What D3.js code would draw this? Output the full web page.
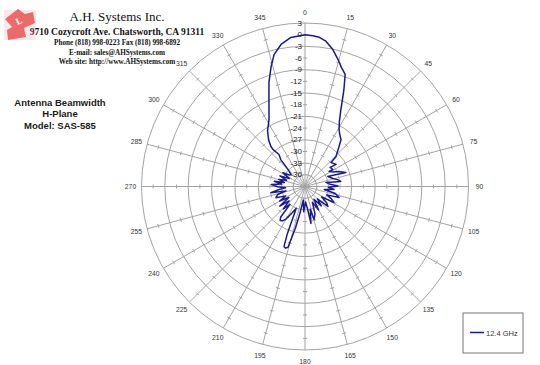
<!DOCTYPE html>
<html><head><meta charset="utf-8">
<script src="https://cdn.jsdelivr.net/npm/d3@7"></script>
<style>html,body{margin:0;padding:0;background:#fff;}svg{display:block;}</style>
</head><body>
<svg id="chart" width="540" height="365"></svg>
<script>
// ---------- data ----------
const angleTicks = [0,15,30,45,60,75,90,105,120,135,150,165,180,195,210,225,240,255,270,285,300,315,330,345];
const radialTickLabels = [3,0,-3,-6,-9,-12,-15,-18,-21,-24,-27,-30,-33,-36];
const ringValues = [3,-3,-9,-15,-21,-27,-33];
const spokeTickValues = [0,-6,-12,-18,-24,-30,-36];
const seriesName = "12.4 GHz";
// measured pattern, path order (degrees, dB)
const angles = [0,3,5.5,8,11.5,14.6,17,19.7,21.9,23.5,25,28,30.8,34,37.5,41,44,46,47.3,54.6,52.8,58.7,58,62,66,71,68,66.5,74,78,82,79,85,89,92,96,99,103,108,111,115,119,122,127,131,135,140,145,150,155,160,164.7,167,170.8,174,178,183,187,191,193,195.6,197.5,199.3,200.5,202,206,210,213,216.3,218.5,220,224,228,232,236,240,244,249,253.7,257,259.5,263.3,266,269.4,273.4,276,279.8,281,285,289,293,297,302,306,310.6,315,318,320.9,319.1,319.6,322,326,331.7,337.5,340.9,344.2,346.8,350.4,354.6,360];
const gains = [0,-0.2,-0.5,-1.2,-3.1,-5.3,-7,-8.4,-12.2,-15,-17.2,-20.2,-21.9,-23,-23.8,-25.8,-27.2,-27.9,-29.9,-29.2,-30.9,-30.6,-31.7,-31,-29.5,-27.9,-31.5,-32.6,-31.5,-30.5,-29.7,-33.5,-32.5,-30.5,-33,-31.5,-34,-31,-29.8,-33,-31.5,-30.5,-34,-32,-31.2,-34.5,-32.5,-35,-32,-34.5,-31.5,-30.2,-33,-29.4,-33.5,-35,-32.5,-35.5,-31.6,-28,-22.8,-22.4,-22.7,-26,-33,-31.5,-29.5,-28.5,-28.2,-29,-33,-31,-33.5,-30.8,-34,-31.5,-33.5,-31,-31.7,-34,-30.1,-32.3,-34,-32,-30.3,-33,-31,-33.6,-32,-34,-32,-34.5,-32.3,-34,-34.3,-32.8,-29.7,-28.4,-26.4,-25.5,-23.8,-21.8,-19.5,-14.8,-10.7,-7.0,-4.2,-2.0,-0.55,0];

// ---------- layout ----------
const cx = 305, cy = 186.5, R = 163.5;
const svg = d3.select("#chart");
const gridColor = "#a3a3a3";

const rScale = d3.scaleLinear().domain([-39, 3]).range([0, R]);
const aScale = d3.scaleLinear().domain([0, 360]).range([0, 2 * Math.PI]);
const pt = (deg, r) => [Math.sin(aScale(deg)) * r, -Math.cos(aScale(deg)) * r];

const g = svg.append("g").attr("transform", `translate(${cx},${cy})`);

// rings
g.selectAll("circle.ring").data(ringValues).join("circle")
  .attr("class", "ring").attr("r", d => rScale(d))
  .attr("fill", "none").attr("stroke", gridColor).attr("stroke-width", 1);

// spokes
g.selectAll("line.spoke").data(angleTicks).join("line")
  .attr("class", "spoke")
  .attr("x1", 0).attr("y1", 0)
  .attr("x2", d => pt(d, R)[0]).attr("y2", d => pt(d, R)[1])
  .attr("stroke", gridColor).attr("stroke-width", 1);

// small ticks on spokes
const tickData = [];
angleTicks.forEach(a => spokeTickValues.forEach(v => tickData.push({a, v})));
g.selectAll("line.stick").data(tickData).join("line")
  .attr("class", "stick")
  .each(function(d) {
    const r = rScale(d.v);
    const [x, y] = pt(d.a, r);
    const rad = aScale(d.a);
    const px = Math.cos(rad) * 2, py = Math.sin(rad) * 2;
    d3.select(this).attr("x1", x - px).attr("y1", y - py).attr("x2", x + px).attr("y2", y + py);
  })
  .attr("stroke", gridColor).attr("stroke-width", 1);

// angle labels
g.selectAll("text.alab").data(angleTicks).join("text")
  .attr("class", "alab")
  .attr("x", d => pt(d, R + 11)[0]).attr("y", d => pt(d, R + 11)[1])
  .attr("text-anchor", "middle").attr("dominant-baseline", "central")
  .attr("font-family", "Arial, 'Liberation Sans', sans-serif").attr("font-size", 6.8)
  .attr("fill", "#333").text(d => d);

// radial labels
g.selectAll("text.rlab").data(radialTickLabels).join("text")
  .attr("class", "rlab")
  .attr("x", -3).attr("y", d => -rScale(d))
  .attr("text-anchor", "end").attr("dominant-baseline", "central")
  .attr("font-family", "Arial, 'Liberation Sans', sans-serif").attr("font-size", 8)
  .attr("fill", "#222").text(d => d);

// pattern line
const line = d3.lineRadial()
  .angle((d, i) => aScale(angles[i]))
  .radius((d, i) => rScale(Math.max(-39, gains[i])))
  .curve(d3.curveLinear);
g.append("path").datum(gains).attr("d", line)
  .attr("fill", "none").attr("stroke", "#1a1a8c").attr("stroke-width", 1.5)
  .attr("stroke-linejoin", "round");

// legend
const lg = svg.append("g").attr("transform", "translate(463,313)");
lg.append("rect").attr("width", 60).attr("height", 40)
  .attr("fill", "#fff").attr("stroke", "#777").attr("stroke-width", 1);
lg.append("line").attr("x1", 7).attr("x2", 21).attr("y1", 19.5).attr("y2", 19.5)
  .attr("stroke", "#1a1a8c").attr("stroke-width", 1.5);
lg.append("text").attr("x", 23).attr("y", 22.5)
  .attr("font-family", "Arial, 'Liberation Sans', sans-serif").attr("font-size", 7.5)
  .attr("fill", "#333").text(seriesName);

// title block
const titleLines = ["Antenna Beamwidth", "H-Plane", "Model: SAS-585"];
svg.selectAll("text.title").data(titleLines).join("text")
  .attr("class", "title")
  .attr("x", 60).attr("y", (d, i) => 105.5 + i * 11.5)
  .attr("text-anchor", "middle")
  .attr("font-family", "Arial, 'Liberation Sans', sans-serif").attr("font-weight", "bold")
  .attr("font-size", 9.5).attr("fill", "#1a1a1a").text(d => d);

// header
const header = [
  {t: "A.H. Systems Inc.", y: 21, s: 13, w: "normal"},
  {t: "9710 Cozycroft Ave. Chatsworth, CA 91311", y: 34.5, s: 9.5, w: "bold"},
  {t: "Phone (818) 998-0223 Fax (818) 998-6892", y: 45, s: 7.2, w: "bold"},
  {t: "E-mail: sales@AHSystems.com", y: 54.5, s: 7.2, w: "bold"},
  {t: "Web site: http://www.AHSystems.com", y: 63.5, s: 7.2, w: "bold"}
];
svg.selectAll("text.hdr").data(header).join("text")
  .attr("class", "hdr")
  .attr("x", 117).attr("y", d => d.y).attr("text-anchor", "middle")
  .attr("font-family", "'Times New Roman', 'Liberation Serif', serif")
  .attr("font-weight", d => d.w).attr("font-size", d => d.s)
  .attr("fill", "#111").text(d => d.t);

// logo
const logo = svg.append("g");
logo.append("polygon")
  .attr("points", "5,19 18,9 25,14 33,12 35,23 24,28 26,37 8,40 7,30 12,27")
  .attr("fill", "#e8585a");
for (let y = 11; y < 40; y += 2) {
  logo.append("line").attr("x1", 4).attr("x2", 36).attr("y1", y).attr("y2", y)
    .attr("stroke", "#f7a3a3").attr("stroke-width", 0.5);
}
logo.append("text").attr("x", 19).attr("y", 24).attr("text-anchor", "middle")
  .attr("transform", "rotate(-25,19,21)")
  .attr("font-family", "'Liberation Serif', serif").attr("font-weight", "bold")
  .attr("font-size", 9).attr("fill", "#fff").text("L");
</script>
</body></html>
